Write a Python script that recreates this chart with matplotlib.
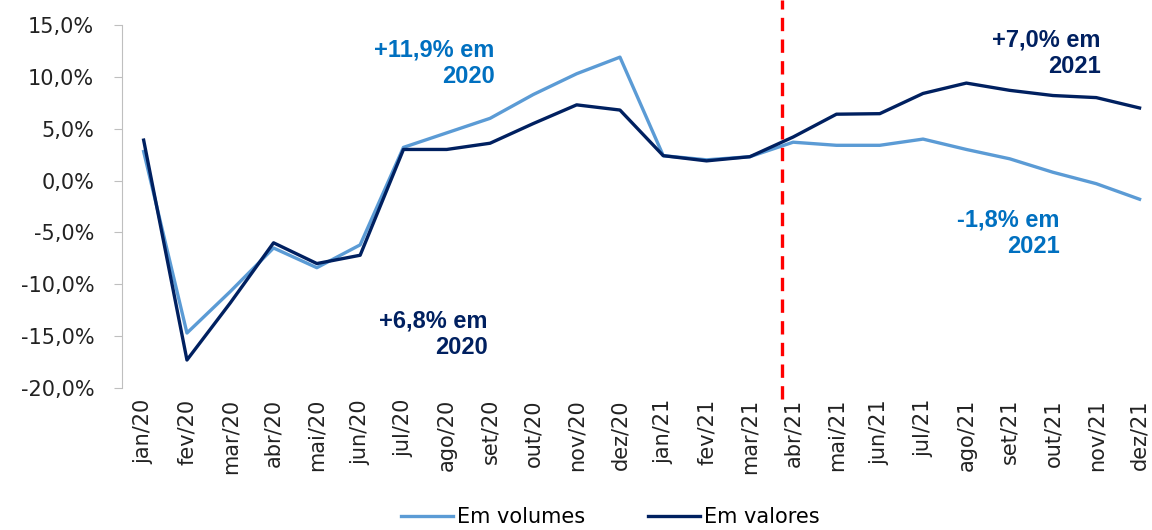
import matplotlib.pyplot as plt
import numpy as np

meses = ['jan/20', 'fev/20', 'mar/20', 'abr/20', 'mai/20', 'jun/20', 'jul/20', 'ago/20',
         'set/20', 'out/20', 'nov/20', 'dez/20', 'jan/21', 'fev/21', 'mar/21', 'abr/21',
         'mai/21', 'jun/21', 'jul/21', 'ago/21', 'set/21', 'out/21', 'nov/21', 'dez/21']
volumes = [2.8, -14.7, -10.7, -6.5, -8.4, -6.2, 3.2, 4.6, 6.0, 8.3, 10.3, 11.9,
           2.4, 2.0, 2.3, 3.7, 3.4, 3.4, 4.0, 3.0, 2.1, 0.8, -0.3, -1.8]
valores = [3.9, -17.3, -11.8, -6.0, -8.0, -7.2, 3.0, 3.0, 3.6, 5.5, 7.3, 6.8,
           2.4, 1.9, 2.3, 4.2, 6.4, 6.45, 8.4, 9.4, 8.7, 8.2, 8.0, 7.0]
yticks = [15, 10, 5, 0, -5, -10, -15, -20]

cor_vol = '#5B9BD5'
cor_val = '#002060'
cor_txt = '#0070C0'

plt.rcParams['font.family'] = ['DejaVu Sans']

fig = plt.figure(figsize=(11.52, 5.30), dpi=100)
ax = fig.add_axes([122/1152, 142/530, 24*43.3/1152, 363/530])

x = np.arange(len(meses))
ax.plot(x, volumes, color=cor_vol, lw=2.4, label='Em volumes')
ax.plot(x, valores, color=cor_val, lw=2.4, label='Em valores')

ax.axvline(14.75, ymin=-0.03, ymax=1.07, color='#FF0000', lw=2.4,
           linestyle=(0, (4, 2.5)), clip_on=False)

ax.set_xlim(-0.5, len(meses) - 0.5)
ax.set_ylim(-20, 15)
ax.set_yticks(yticks)
ax.set_yticklabels([('%.1f%%' % v).replace('.', ',') for v in yticks], fontsize=15, color='#222222')
ax.set_xticks(x)
ax.set_xticklabels(meses, rotation=90, fontsize=15, color='#222222')
ax.tick_params(axis='x', length=0, pad=8)
ax.tick_params(axis='y', length=6, color='#BFBFBF', direction='out', pad=14)

for s in ['top', 'right', 'bottom']:
    ax.spines[s].set_visible(False)
ax.spines['left'].set_color('#BFBFBF')

tk = dict(fontsize=17, fontweight='bold', ha='right', va='top',
          family='Liberation Sans', linespacing=1.2)
ax.text(8.1, 13.7, '+11,9% em\n2020', color=cor_txt, **tk)
ax.text(7.95, -12.4, '+6,8% em\n2020', color=cor_val, **tk)
ax.text(22.1, 14.7, '+7,0% em\n2021', color=cor_val, **tk)
ax.text(21.15, -2.7, '-1,8% em\n2021', color=cor_txt, **tk)

ax.legend(loc='center', bbox_to_anchor=(0.47, -0.355), ncol=2, frameon=False,
          fontsize=15, handlelength=2.5, columnspacing=3.0, handletextpad=0.2,
          borderpad=0)

fig.savefig('out.png', dpi=100)
